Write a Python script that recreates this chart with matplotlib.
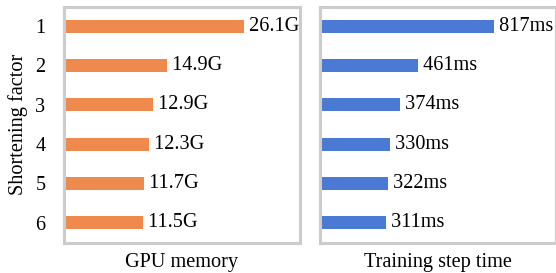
import matplotlib
matplotlib.use("Agg")
import matplotlib.pyplot as plt

factors = ["1", "2", "3", "4", "5", "6"]
gpu_memory = [26.1, 14.9, 12.9, 12.3, 11.7, 11.5]
gpu_labels = ["26.1G", "14.9G", "12.9G", "12.3G", "11.7G", "11.5G"]
step_time = [817, 461, 374, 330, 322, 311]
step_labels = ["817ms", "461ms", "374ms", "330ms", "322ms", "311ms"]

plt.rcParams['font.family'] = ['Liberation Serif', 'DejaVu Serif']
FS = 14.6

fig = plt.figure(figsize=(5.56, 2.73), dpi=100)
W, H = 556, 273
ax_w = 236 / W
ax_b = 1 - 242.5 / H
ax_h = (242.5 - 6.5) / H
ax1 = fig.add_axes([63.5 / W, ax_b, ax_w, ax_h])
ax2 = fig.add_axes([319.5 / W, ax_b, ax_w, ax_h])

orange = "#EE8A4E"
blue = "#4A7AD3"
ypos = list(range(len(factors)))

def style(ax, xmax, xlabel):
    ax.set_xlim(0, xmax)
    ax.set_ylim(len(factors) - 0.5, -0.5)
    ax.set_xticks([])
    for s in ax.spines.values():
        s.set_color("#cccccc")
        s.set_linewidth(2.2)
        s.set_zorder(5)
    ax.set_xlabel(xlabel, fontsize=FS, labelpad=7.5)

ax1.barh(ypos, gpu_memory, height=0.33, color=orange, zorder=2)
for y, v, t in zip(ypos, gpu_memory, gpu_labels):
    ax1.text(v, y, " " + t, va="center", ha="left", fontsize=FS)
style(ax1, 34.1, "GPU memory")
ax1.set_yticks(ypos)
ax1.set_yticklabels(factors, fontsize=FS)
ax1.tick_params(axis="y", length=0, pad=13)
ax1.set_ylabel("Shortening factor", fontsize=FS, labelpad=5)

ax2.barh(ypos, step_time, height=0.33, color=blue, zorder=2)
for y, v, t in zip(ypos, step_time, step_labels):
    ax2.text(v, y, " " + t, va="center", ha="left", fontsize=FS)
style(ax2, 1103, "Training step time")
ax2.set_yticks([])

fig.savefig("out.png", dpi=100)
